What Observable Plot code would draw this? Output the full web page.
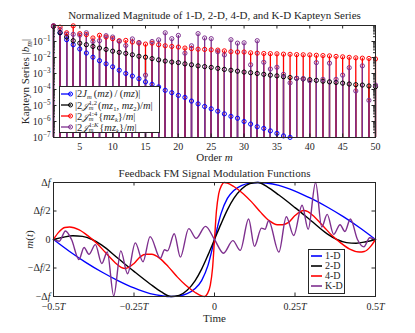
<!DOCTYPE html>
<html><head><meta charset="utf-8">
<script src="https://cdn.jsdelivr.net/npm/d3@7"></script>
<script src="https://cdn.jsdelivr.net/npm/@observablehq/plot@0.6"></script>
<style>
body{margin:0;background:#fff;}
#wrap{position:relative;width:415px;height:333px;font-family:"Liberation Serif",serif;color:#262626;overflow:hidden;}
#wrap svg{display:block;}
.leg{position:absolute;background:#fff;border:1px solid #262626;box-sizing:border-box;font-size:10px;white-space:nowrap;line-height:10px;}
.row{position:absolute;left:1px;display:flex;align-items:center;height:10px;}
.row svg{flex:none;margin-right:2px;}
.ss{display:inline-block;vertical-align:-2px;line-height:5.5px;font-size:6.5px;margin:0 1px 0 0.5px;}
.ss span{display:block;}
sub{font-size:6.5px;vertical-align:-2px;line-height:0;}
.cal{font-family:"DejaVu Serif","DejaVu Sans",serif;font-style:italic;font-size:9px;}
.big{font-size:10.5px;}
</style></head><body><div id="wrap"></div><script>
// ---------- Top panel data: normalized Kapteyn series magnitudes |b_m| ----------
const orders = [1,2,3,4,5,6,7,8,9,10,11,12,13,14,15,16,17,18,19,20,21,22,23,24,25,26,27,28,29,30,31,32,33,34,35,36,37,38,39,40,41,42,43,44,45,46,47,48,49,50];
const series1D = [0.89,0.35,0.13,0.063,0.034,0.019,0.0105,0.0063,0.004,0.0026,0.0016,0.001,6.9e-4,4.7e-4,3.0e-4,2.1e-4,1.45e-4,8.9e-5,6.3e-5,4.3e-5,3.2e-5,1.9e-5,1.26e-5,8.7e-6,6.2e-6,4.4e-6,3.0e-6,2.1e-6,1.6e-6,1.0e-6,6.9e-7,4.7e-7,3.7e-7,2.6e-7,1.8e-7,1.26e-7,1.02e-7];
const series2D = [0.89,0.355,0.19,0.112,0.079,0.063,0.049,0.039,0.032,0.025,0.021,0.018,0.0148,0.012,0.0105,0.0085,0.0071,0.006,0.0052,0.0048,0.004,0.0035,0.003,0.0027,0.0024,0.0021,0.0018,0.0016,0.0014,0.00123,0.00112,0.001,8.9e-4,7.9e-4,7.1e-4,6.3e-4,5.6e-4,5.0e-4,4.6e-4,4.1e-4,3.7e-4,3.3e-4,3.0e-4,2.75e-4,2.5e-4,2.2e-4,2.0e-4,1.9e-4,1.66e-4,1.5e-4];
const series4D = [0.93,0.79,0.35,0.95,0.31,0.27,0.166,0.245,0.19,0.15,0.112,0.117,0.093,0.079,0.069,0.079,0.063,0.054,0.049,0.045,0.039,0.036,0.033,0.032,0.030,0.029,0.026,0.023,0.022,0.022,0.0195,0.0186,0.0178,0.0174,0.017,0.0162,0.0158,0.0151,0.0148,0.0145,0.0138,0.0132,0.0126,0.0117,0.011,0.0102,0.0095,0.0091,0.0087,0.0081];
const seriesKD = [0.98,0.56,0.28,0.28,0.25,0.35,0.1,0.112,0.23,0.19,0.102,0.056,0.145,0.087,7.9e-4,0.1,0.126,0.35,0.15,0.24,0.0186,0.054,0.31,0.166,0.15,0.023,0.0145,0.129,0.079,0.083,0.0035,0.112,0.005,0.0019,0.00245,8.9e-4,2.6e-4,5.0e-4,4.8e-4,3.5e-4,0.0048,4.3e-4,0.0044,4.3e-4,7.9e-4,0.0023,8.1e-5,0.003,2.1e-5,1.9e-4];
const topXTicks = [5,10,15,20,25,30,35,40,45,50];
const topYTicks = [1e-7,1e-6,1e-5,1e-4,1e-3,1e-2,1e-1];
const topYLabels = ["10^{−7}","10^{−6}","10^{−5}","10^{−4}","10^{−3}","10^{−2}","10^{−1}"];

// ---------- Bottom panel data: modulation functions m(t), t in units of T, m in units of Δf ----------
const t1D = [-0.5,-0.45,-0.4,-0.35,-0.3,-0.25,-0.2,-0.16,-0.135,-0.11,-0.085,-0.06,-0.04,-0.02,0,0.02,0.04,0.06,0.085,0.11,0.135,0.16,0.2,0.25,0.3,0.35,0.4,0.45,0.5];
const m1D = [0,-0.21,-0.4,-0.57,-0.72,-0.85,-0.95,-0.99,-1.0,-0.99,-0.95,-0.86,-0.72,-0.45,0,0.45,0.72,0.86,0.95,0.99,1.0,0.99,0.95,0.85,0.72,0.57,0.4,0.21,0];
const t2D = [-0.5,-0.47,-0.44,-0.41,-0.38,-0.35,-0.3,-0.25,-0.2,-0.165,-0.135,-0.11,-0.085,-0.06,-0.04,-0.02,0,0.02,0.04,0.06,0.085,0.11,0.135,0.165,0.2,0.25,0.3,0.35,0.38,0.41,0.44,0.47,0.5];
const m2D = [0,0.04,0.065,0.055,0,-0.1,-0.33,-0.56,-0.78,-0.92,-1.0,-0.98,-0.89,-0.72,-0.52,-0.27,0,0.27,0.52,0.72,0.89,0.98,1.0,0.92,0.78,0.56,0.33,0.1,0,-0.055,-0.065,-0.04,0];
const t4D = [-0.5,-0.485,-0.465,-0.45,-0.42,-0.39,-0.365,-0.34,-0.31,-0.29,-0.277,-0.25,-0.23,-0.212,-0.195,-0.17,-0.143,-0.115,-0.09,-0.06,-0.04,-0.03,-0.022,-0.013,-0.006,0,0.006,0.013,0.022,0.03,0.04,0.06,0.09,0.115,0.143,0.17,0.195,0.212,0.23,0.25,0.277,0.29,0.31,0.34,0.365,0.39,0.42,0.45,0.465,0.485,0.5];
const m4D = [0,0.12,0.21,0.22,0.17,0.05,-0.07,-0.22,-0.4,-0.49,-0.51,-0.42,-0.3,-0.26,-0.26,-0.33,-0.48,-0.66,-0.8,-0.93,-0.99,-1.0,-0.95,-0.8,-0.5,0,0.5,0.8,0.95,1.0,0.99,0.93,0.8,0.66,0.48,0.33,0.26,0.26,0.3,0.42,0.51,0.49,0.4,0.22,0.07,-0.05,-0.17,-0.22,-0.21,-0.12,0];
const tKD = [-0.5,-0.482,-0.463,-0.444,-0.421,-0.405,-0.39,-0.37,-0.35,-0.333,-0.313,-0.291,-0.27,-0.246,-0.222,-0.2,-0.168,-0.155,-0.146,-0.125,-0.106,-0.08,-0.057,-0.028,0,0.028,0.057,0.08,0.106,0.124,0.146,0.157,0.168,0.2,0.223,0.246,0.272,0.291,0.314,0.333,0.35,0.37,0.39,0.405,0.422,0.444,0.464,0.482,0.5];
const mKD = [0,-0.03,0.15,0.0,-0.35,-0.14,-0.26,-0.09,-0.42,-0.22,-0.99,-0.2,-0.6,-0.06,-0.39,0.05,-0.33,-0.18,-0.2,0.1,-0.31,0.19,0.02,0.23,0,-0.24,-0.02,-0.19,0.36,-0.12,0.2,0.18,0.33,-0.22,0.4,0.07,0.6,0.18,1.0,0.22,0.44,0.09,0.26,0.14,0.36,0.0,-0.13,0.03,0];
const botXTicks = [-0.5,-0.25,0,0.25,0.5];
const botXLabels = ["−0.5*T*","−0.25*T*","0","0.25*T*","0.5*T*"];
const botYTicks = [-1,-0.5,0,0.5,1];
const botYLabels = ["−Δ*f*","−Δ*f*/2","0","Δ*f*/2","Δ*f*"];

const keys = ["1-D","2-D","4-D","K-D"];
const colors = ["#0000ff","#000000","#ff0000","#7e2f8e"];
const ink = "#262626";
const font = "Liberation Serif";

// ---------- build tables ----------
const stems = [series1D, series2D, series4D, seriesKD].flatMap((vals, s) =>
  vals.map((v, i) => ({m: orders[i], v, s: keys[s]})));
const curves = [[t1D,m1D],[t2D,m2D],[t4D,m4D],[tKD,mKD]].flatMap(([ts, ms], s) =>
  ts.map((t, i) => ({t, v: ms[i], s: keys[s]})));

const FW = 322, FH1 = 112, FH2 = 114;
const minorTop = d3.scaleLog().domain([1e-7, 1]).ticks().filter(d => !topYTicks.includes(d) && d < 1);
const txt = {fill: ink, fontSize: 11, lineAnchor: "middle", textAnchor: "middle"};

const topChart = Plot.plot({
  width: 415, height: 166,
  marginTop: 25, marginBottom: 29, marginLeft: 53, marginRight: 40,
  style: {fontFamily: font, fontSize: "10px", color: ink, background: "#fff"},
  x: {domain: [1, 50]},
  y: {type: "log", domain: [1e-7, 1]},
  color: {domain: keys, range: colors},
  marks: [
    Plot.ruleX(stems, {x: "m", y1: 1e-7, y2: "v", stroke: "s", strokeWidth: 1.3}),
    Plot.dot(stems, {x: "m", y: "v", stroke: "s", r: 2.1, strokeWidth: 1, fill: "none"}),
    Plot.tickX(topXTicks, {x: d => d, insetTop: FH1 - 3.5, stroke: ink}),
    Plot.tickX(topXTicks, {x: d => d, insetBottom: FH1 - 3.5, stroke: ink}),
    Plot.tickY(topYTicks, {y: d => d, insetRight: FW - 3.5, stroke: ink}),
    Plot.tickY(topYTicks, {y: d => d, insetLeft: FW - 3.5, stroke: ink}),
    Plot.tickY(minorTop, {y: d => d, insetRight: FW - 2, stroke: ink}),
    Plot.tickY(minorTop, {y: d => d, insetLeft: FW - 2, stroke: ink}),
    Plot.frame({stroke: ink}),
    Plot.axisX({ticks: topXTicks, tickSize: 0, tickPadding: 5, tickFormat: d => String(d), label: null, fill: ink}),
    Plot.axisY({ticks: topYTicks, tickSize: 0, tickPadding: 3, tickFormat: d => topYLabels[topYTicks.indexOf(d)], label: null, fill: ink}),
    Plot.text([0], {...txt, frameAnchor: "top", dy: -10, text: () => "Normalized Magnitude of 1-D, 2-D, 4-D, and K-D Kapteyn Series"}),
    Plot.text([0], {...txt, frameAnchor: "bottom", dy: 20, text: () => "Order *m*"}),
    Plot.text([0], {...txt, frameAnchor: "left", dx: -28, rotate: -90, text: () => "Kapteyn Series |*b*_{*m*}|"})
  ]
});

const botChart = Plot.plot({
  width: 415, height: 167,
  marginTop: 16, marginBottom: 37, marginLeft: 53, marginRight: 40,
  style: {fontFamily: font, fontSize: "10px", color: ink, background: "#fff"},
  x: {domain: [-0.5, 0.5]},
  y: {domain: [-1, 1]},
  color: {domain: keys, range: colors},
  marks: [
    Plot.line(curves, {x: "t", y: "v", stroke: "s", z: "s", strokeWidth: 1.4, curve: "monotone-x"}),
    Plot.tickX(botXTicks, {x: d => d, insetTop: FH2 - 3.5, stroke: ink}),
    Plot.tickX(botXTicks, {x: d => d, insetBottom: FH2 - 3.5, stroke: ink}),
    Plot.tickY(botYTicks, {y: d => d, insetRight: FW - 3.5, stroke: ink}),
    Plot.tickY(botYTicks, {y: d => d, insetLeft: FW - 3.5, stroke: ink}),
    Plot.frame({stroke: ink}),
    Plot.axisX({ticks: botXTicks, tickSize: 0, tickPadding: 6, tickFormat: d => botXLabels[botXTicks.indexOf(d)], label: null, fill: ink}),
    Plot.axisY({ticks: botYTicks, tickSize: 0, tickPadding: 3, tickFormat: d => botYLabels[botYTicks.indexOf(d)], label: null, fill: ink}),
    Plot.text([0], {...txt, frameAnchor: "top", dy: -9, text: () => "Feedback FM Signal Modulation Functions"}),
    Plot.text([0], {...txt, frameAnchor: "bottom", dy: 22, text: () => "Time"}),
    Plot.text([0], {...txt, frameAnchor: "left", dx: -24, rotate: -90, text: () => "*m*(*t*)"})
  ]
});

const wrap = document.getElementById("wrap");
wrap.appendChild(topChart);
wrap.appendChild(botChart);

// rich text: *italic*, ^{sup}, _{sub}
const SVGNS = "http://www.w3.org/2000/svg";
function richify(root) {
  root.querySelectorAll("text").forEach(t => {
    if (t.querySelector("tspan")) return;
    const src = t.textContent;
    if (!/\*|\^\{|_\{/.test(src)) return;
    const fs = parseFloat(getComputedStyle(t).fontSize) || 10;
    t.textContent = "";
    let cur = 0;
    const parts = src.split(/(\^\{[^}]*\}|_\{[^}]*\}|\*[^*]+\*)/).filter(Boolean);
    for (const p of parts) {
      let s = p, off = 0, small = false, ital = false;
      if (p.startsWith("^{")) { s = p.slice(2, -1); off = -0.42 * fs; small = true; }
      else if (p.startsWith("_{")) { s = p.slice(2, -1); off = 0.25 * fs; small = true; }
      if (s.length > 1 && s.startsWith("*") && s.endsWith("*")) { s = s.slice(1, -1); ital = true; }
      const ts = document.createElementNS(SVGNS, "tspan");
      ts.textContent = s;
      if (ital) ts.setAttribute("font-style", "italic");
      if (small) ts.setAttribute("font-size", (0.72 * fs) + "px");
      if (off !== cur) { ts.setAttribute("dy", (off - cur) + "px"); cur = off; }
      t.appendChild(ts);
    }
  });
}
richify(topChart); richify(botChart);

// ---------- legends ----------
function icon(color, marker) {
  return marker
    ? `<svg width="12" height="6"><line x1="0" y1="3" x2="10" y2="3" stroke="${color}" stroke-width="1.3"/><circle cx="9.5" cy="3" r="2" fill="none" stroke="${color}"/></svg>`
    : `<svg width="13" height="6"><line x1="1" y1="3" x2="12" y2="3" stroke="${color}" stroke-width="1.6"/></svg>`;
}
const J = `<span class="cal">𝒥</span>`;
const topLegendLabels = [
  `|2<i>J</i><sub><i>m</i></sub>&#8201;(<i>mz</i>)&#8201;/&#8201;(<i>mz</i>)|`,
  `|2${J}<span class="ss"><span>1,2</span><span><i>m</i></span></span>(<i>mz</i><sub>1</sub>, <i>mz</i><sub>2</sub>)/<i>m</i>|`,
  `|2${J}<span class="ss"><span>1:4</span><span><i>m</i></span></span>{<i>mz</i><sub><i>k</i></sub>}/<i>m</i>|`,
  `|2${J}<span class="ss"><span>1:<i>K</i></span><span><i>m</i></span></span>{<i>mz</i><sub><i>k</i></sub>}/<i>m</i>|`
];
const topRowsY = [2, 13, 24, 35];
const legTop = document.createElement("div");
legTop.className = "leg big";
Object.assign(legTop.style, {left: "59px", top: "86px", width: "101px", height: "47px"});
legTop.innerHTML = topLegendLabels.map((l, i) => `<div class="row" style="top:${topRowsY[i]}px">${icon(colors[i], true)}<span>${l}</span></div>`).join("");
wrap.appendChild(legTop);

const botRowsY = [1, 11, 21, 31];
const legBot = document.createElement("div");
legBot.className = "leg";
Object.assign(legBot.style, {left: "308px", top: "249px", width: "37px", height: "45px"});
legBot.innerHTML = keys.map((k, i) => `<div class="row" style="top:${botRowsY[i]}px">${icon(colors[i], false)}<span>${k}</span></div>`).join("");
wrap.appendChild(legBot);
</script></body></html>
